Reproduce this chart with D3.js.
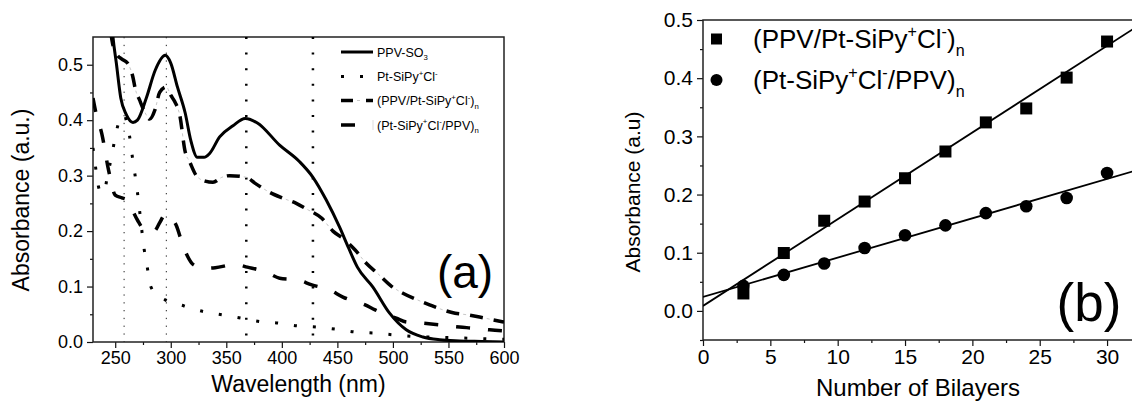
<!DOCTYPE html>
<html><head><meta charset="utf-8">
<script src="https://cdn.jsdelivr.net/npm/d3@7"></script>
<style>body{margin:0;background:#fff} text{font-family:"Liberation Sans",Arial,sans-serif;fill:#000}</style>
</head><body><svg id="c" width="1132" height="405"></svg>
<script>
// ---------- Panel (a) data ----------
const ppvWl  = [246,248,251,255,260,266,270,278,286,295,300,306,313,318,324,330,335,344,356,367,378,398,416,428,440,452,460,468,482,497,512,527,542,560,580,600];
const ppvAbs = [0.60,0.55,0.503,0.44,0.41,0.396,0.40,0.44,0.49,0.517,0.503,0.46,0.413,0.364,0.333,0.333,0.34,0.37,0.39,0.403,0.395,0.355,0.325,0.297,0.256,0.207,0.17,0.135,0.099,0.052,0.022,0.009,0.004,0.002,0.001,0.0];

const ptWl  = [230,232,234,237,240,243,247,250,255,258,261,263,265,267.5,270,272,276,279,282,288,295,312,329,346,364,380,397,414,431,449,466,485,500,520,550,600];
const ptAbs = [0.35,0.32,0.29,0.27,0.27,0.30,0.337,0.37,0.405,0.41,0.39,0.37,0.34,0.306,0.27,0.236,0.168,0.133,0.10,0.085,0.076,0.065,0.055,0.049,0.043,0.037,0.034,0.029,0.027,0.023,0.018,0.016,0.013,0.01,0.008,0.005];

const ppvPtWl  = [244,247,251,256,261,266,268,272,277,281,286,290,296,300,304,308,313,317,323,331,338,346,353,368,376,389,400,413,422,436,446,455,466,476,486,499,509,522,533,545,556,567,578,590,600];
const ppvPtAbs = [0.60,0.545,0.52,0.51,0.503,0.477,0.457,0.436,0.413,0.402,0.42,0.45,0.46,0.445,0.432,0.41,0.343,0.325,0.30,0.29,0.288,0.297,0.30,0.297,0.286,0.27,0.26,0.25,0.24,0.223,0.20,0.187,0.166,0.142,0.124,0.10,0.088,0.076,0.067,0.058,0.052,0.049,0.045,0.04,0.036];

const ptPpvWl  = [230,233,238,244,250,256,261,265,270,278,285,290,295,300,305,310,315,320,330,340,358,369,386,398,414,427,443,455,475,484,503,512,526,542,560,572,587,600];
const ptPpvAbs = [0.44,0.41,0.375,0.31,0.265,0.26,0.256,0.24,0.22,0.20,0.20,0.215,0.23,0.225,0.21,0.18,0.155,0.14,0.133,0.134,0.14,0.135,0.126,0.115,0.112,0.103,0.094,0.081,0.067,0.058,0.043,0.036,0.034,0.031,0.027,0.025,0.022,0.02];

const peakLinesFine   = [258, 296];
const peakLinesCoarse = [368, 428];
const xTicksA = [250,300,350,400,450,500,550,600];
const xMinorA = [275,325,375,425,475,525,575];
const yTicksA = [0,0.1,0.2,0.3,0.4,0.5];
const yMinorA = [0.05,0.15,0.25,0.35,0.45];

// ---------- Panel (b) data ----------
const bilayers = [3,6,9,12,15,18,21,24,27,30];
const sqAbs  = [0.03,0.0995,0.155,0.188,0.228,0.274,0.324,0.348,0.401,0.463];
const cirAbs = [0.043,0.062,0.0816,0.108,0.13,0.147,0.168,0.18,0.194,0.237];
const fitSq  = [0.0086, 0.0149];   // intercept, slope
const fitCir = [0.0240, 0.00676];
const xTicksB = [0,5,10,15,20,25,30];
const xMinorB = [2.5,7.5,12.5,17.5,22.5,27.5];
const yTicksB = [0,0.1,0.2,0.3,0.4,0.5];
const yMinorB = [-0.05,0.05,0.15,0.25,0.35,0.45];

const svg = d3.select("#c");

function richText(g, x, y, size, parts){
  const t = g.append("text").attr("x",x).attr("y",y).style("font-size",size+"px");
  let cur = 0;
  parts.forEach(p=>{
    let target = 0, fs = size;
    if(p[1]==="sup"){ target = -0.42*size; fs = size*0.62; }
    if(p[1]==="sub"){ target = 0.3*size; fs = size*0.62; }
    const s = t.append("tspan").text(p[0]).attr("dy", target-cur).style("font-size",fs+"px");
    cur = target;
  });
  return t;
}

// ================= Panel (a) =================
const xA = d3.scaleLinear([230,600],[93,504]);
const yA = d3.scaleLinear([0,0.55],[342,37]);
const gA = svg.append("g");
gA.append("defs").append("clipPath").attr("id","clipA")
  .append("rect").attr("x",93).attr("y",37).attr("width",411).attr("height",305);

gA.append("g").attr("transform","translate(0,342)")
  .call(d3.axisBottom(xA).tickValues(xTicksA).tickFormat(d3.format("d")).tickSize(6).tickSizeOuter(0).tickPadding(3));
gA.append("g").attr("transform","translate(0,342)")
  .call(d3.axisBottom(xA).tickValues(xMinorA).tickFormat("").tickSize(3).tickSizeOuter(0));
gA.append("g").attr("transform","translate(93,0)")
  .call(d3.axisLeft(yA).tickValues(yTicksA).tickFormat(d3.format(".1f")).tickSize(6).tickSizeOuter(0).tickPadding(4));
gA.append("g").attr("transform","translate(93,0)")
  .call(d3.axisLeft(yA).tickValues(yMinorA).tickFormat("").tickSize(3).tickSizeOuter(0));
gA.selectAll(".tick text").style("font-size","18px").style("font-family","Liberation Sans, Arial, sans-serif");
gA.selectAll(".domain").remove();
gA.selectAll(".tick line").attr("stroke","#111").attr("stroke-width",1.2);
gA.append("rect").attr("x",93).attr("y",37).attr("width",411).attr("height",305)
  .attr("fill","none").attr("stroke","#222").attr("stroke-width",1.5);

const plotA = gA.append("g").attr("clip-path","url(#clipA)");
plotA.selectAll(".vf").data(peakLinesFine).join("line")
  .attr("x1",d=>xA(d)).attr("x2",d=>xA(d)).attr("y1",37).attr("y2",342)
  .attr("stroke","#222").attr("stroke-width",1).attr("stroke-dasharray","1.3 6.5");
plotA.selectAll(".vc").data(peakLinesCoarse).join("line")
  .attr("x1",d=>xA(d)).attr("x2",d=>xA(d)).attr("y1",37).attr("y2",342)
  .attr("stroke","#000").attr("stroke-width",2.5).attr("stroke-dasharray","2 13.6");

const lineA = (wl, ab) => d3.line().x((d,i)=>xA(wl[i])).y((d,i)=>yA(ab[i])).curve(d3.curveMonotoneX)(wl);

plotA.append("path").attr("d",lineA(ptWl,ptAbs)).attr("fill","none")
  .attr("stroke","#000").attr("stroke-width",3).attr("stroke-dasharray","3 16");
plotA.append("path").attr("d",lineA(ptPpvWl,ptPpvAbs)).attr("fill","none")
  .attr("stroke","#000").attr("stroke-width",3.5).attr("stroke-dasharray","14 18");
plotA.append("path").attr("d",lineA(ppvPtWl,ppvPtAbs)).attr("fill","none")
  .attr("stroke","#c8c8c8").attr("stroke-width",1).attr("stroke-dasharray","0 17 3 4");
plotA.append("path").attr("d",lineA(ppvPtWl,ppvPtAbs)).attr("fill","none")
  .attr("stroke","#000").attr("stroke-width",3.5).attr("stroke-dasharray","13 11");
plotA.append("path").attr("d",lineA(ppvWl,ppvAbs)).attr("fill","none")
  .attr("stroke","#000").attr("stroke-width",3);

const legA = gA.append("g");
const legRows = [52, 76.5, 100.5, 125];
legA.append("line").attr("x1",341).attr("x2",373).attr("y1",legRows[0]).attr("y2",legRows[0]).attr("stroke","#000").attr("stroke-width",3);
legA.append("line").attr("x1",341).attr("x2",373).attr("y1",legRows[1]).attr("y2",legRows[1]).attr("stroke","#000").attr("stroke-width",3).attr("stroke-dasharray","3 16");
legA.append("line").attr("x1",341).attr("x2",373).attr("y1",legRows[2]).attr("y2",legRows[2]).attr("stroke","#c8c8c8").attr("stroke-width",1).attr("stroke-dasharray","0 16 3 13");
legA.append("line").attr("x1",341).attr("x2",373).attr("y1",legRows[2]).attr("y2",legRows[2]).attr("stroke","#000").attr("stroke-width",3.5).attr("stroke-dasharray","12 13 8");
legA.append("line").attr("x1",341).attr("x2",355).attr("y1",legRows[3]).attr("y2",legRows[3]).attr("stroke","#000").attr("stroke-width",3.5);
legA.append("line").attr("x1",373).attr("x2",373).attr("y1",legRows[3]-5).attr("y2",legRows[3]+5).attr("stroke","#ddd").attr("stroke-width",1);

const fsL = 12.5;
richText(legA,377,legRows[0]+4.5,fsL,[["PPV-SO"],["3","sub"]]);
richText(legA,377,legRows[1]+4.5,fsL,[["Pt-SiPy"],["+","sup"],["Cl"],["-","sup"]]);
richText(legA,377,legRows[2]+4.5,fsL,[["(PPV/Pt-SiPy"],["+","sup"],["Cl"],["-","sup"],[")"],["n","sub"]]);
richText(legA,377,legRows[3]+4.5,fsL,[["(Pt-SiPy"],["+","sup"],["Cl"],["-","sup"],["/PPV)"],["n","sub"]]);

gA.append("text").attr("x",465).attr("y",288).attr("text-anchor","middle").style("font-size","46px").text("(a)");
gA.append("text").attr("x",298.5).attr("y",392).attr("text-anchor","middle").style("font-size","23px").text("Wavelength (nm)");
gA.append("text").attr("transform","translate(29,200) rotate(-90)").attr("text-anchor","middle").style("font-size","23px").text("Absorbance (a.u.)");

// ================= Panel (b) =================
const xB = d3.scaleLinear([0,32],[703,1134]);
const yB = d3.scaleLinear([-0.05,0.5],[340,20]);
const gB = svg.append("g");
gB.append("g").attr("transform","translate(0,340)")
  .call(d3.axisBottom(xB).tickValues(xTicksB).tickFormat(d3.format("d")).tickSize(6).tickSizeOuter(0).tickPadding(3));
gB.append("g").attr("transform","translate(0,340)")
  .call(d3.axisBottom(xB).tickValues(xMinorB).tickFormat("").tickSize(3).tickSizeOuter(0));
gB.append("g").attr("transform","translate(703,0)")
  .call(d3.axisLeft(yB).tickValues(yTicksB).tickFormat(d3.format(".1f")).tickSize(6).tickSizeOuter(0).tickPadding(4));
gB.append("g").attr("transform","translate(703,0)")
  .call(d3.axisLeft(yB).tickValues(yMinorB).tickFormat("").tickSize(3).tickSizeOuter(0));
gB.selectAll(".tick text").style("font-size","21px").style("font-family","Liberation Sans, Arial, sans-serif");
gB.selectAll(".domain").remove();
gB.selectAll(".tick line").attr("stroke","#111").attr("stroke-width",1.2);
gB.append("rect").attr("x",703).attr("y",20).attr("width",431).attr("height",320)
  .attr("fill","none").attr("stroke","#222").attr("stroke-width",1.5);

gB.append("defs").append("clipPath").attr("id","clipB")
  .append("rect").attr("x",703).attr("y",20).attr("width",431).attr("height",320);
const plotB = gB.append("g").attr("clip-path","url(#clipB)");
[fitSq, fitCir].forEach(f=>{
  plotB.append("line").attr("x1",xB(0)).attr("x2",xB(32))
    .attr("y1",yB(f[0])).attr("y2",yB(f[0]+f[1]*32))
    .attr("stroke","#000").attr("stroke-width",1.8);
});
plotB.selectAll(".sq").data(bilayers).join("rect")
  .attr("x",(d)=>xB(d)-6).attr("y",(d,i)=>yB(sqAbs[i])-6).attr("width",12).attr("height",12).attr("fill","#000");
plotB.selectAll(".ci").data(bilayers).join("circle")
  .attr("cx",d=>xB(d)).attr("cy",(d,i)=>yB(cirAbs[i])).attr("r",6.3).attr("fill","#000");

const legB = gB.append("g");
legB.append("rect").attr("x",711).attr("y",33.5).attr("width",11).attr("height",11).attr("fill","#000");
legB.append("circle").attr("cx",716.5).attr("cy",80).attr("r",6).attr("fill","#000");
const fsB = 26;
richText(legB,753,48,fsB,[["(PPV/Pt-SiPy"],["+","sup"],["Cl"],["-","sup"],[")"],["n","sub"]]);
richText(legB,753,89,fsB,[["(Pt-SiPy"],["+","sup"],["Cl"],["-","sup"],["/PPV)"],["n","sub"]]);

gB.append("text").attr("x",1089).attr("y",321).attr("text-anchor","middle").style("font-size","53px").text("(b)");
gB.append("text").attr("x",918).attr("y",396).attr("text-anchor","middle").style("font-size","24px").text("Number of Bilayers");
gB.append("text").attr("transform","translate(640,192) rotate(-90)").attr("text-anchor","middle").style("font-size","21px").text("Absorbance (a.u)");
</script></body></html>
